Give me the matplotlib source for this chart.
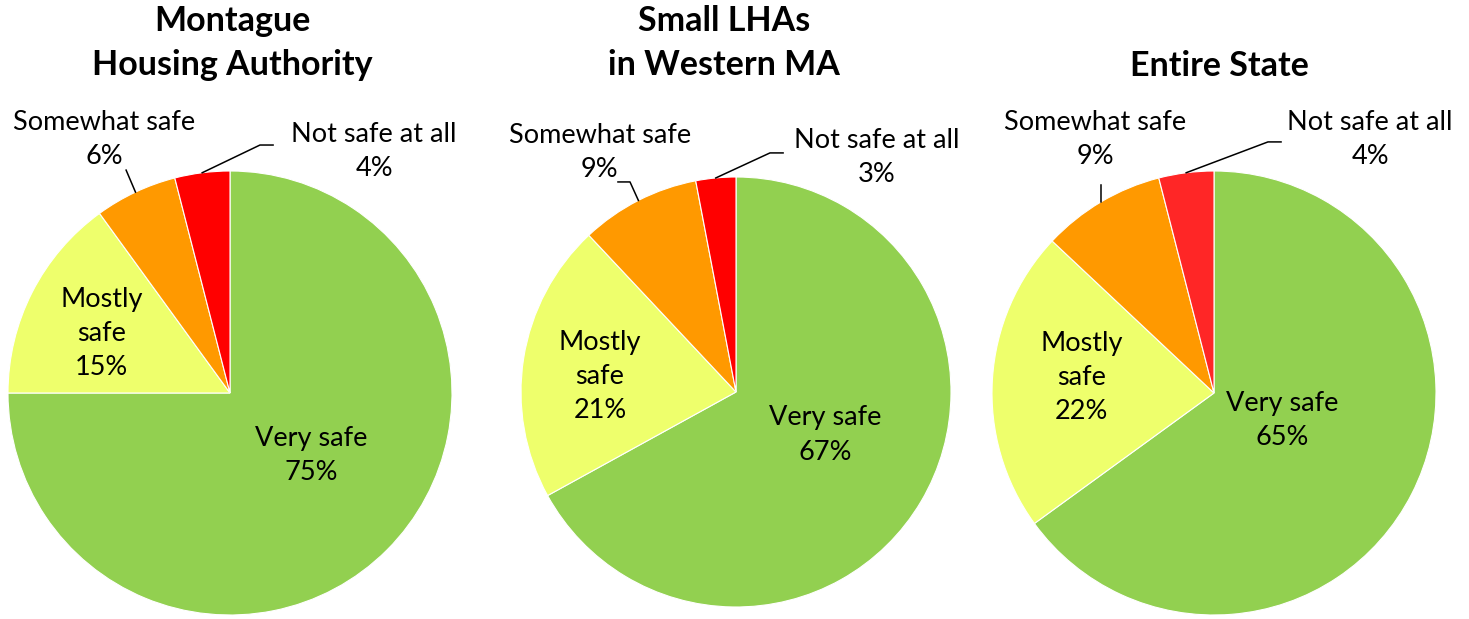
import matplotlib
matplotlib.use("Agg")
import matplotlib.pyplot as plt
import numpy as np

plt.rcParams['font.family'] = ['Lato', 'DejaVu Sans']

titles = ["Montague\nHousing Authority", "Small LHAs\nin Western MA", "Entire State"]
categories = ["Very safe", "Mostly\nsafe", "Somewhat safe", "Not safe at all"]
montague = [75, 15, 6, 4]
western = [67, 21, 9, 3]
state = [65, 22, 9, 4]
series = [montague, western, state]

colors_list = [
    ["#92D050", "#EEFF6C", "#FF9900", "#FF0000"],
    ["#92D050", "#EEFF6C", "#FF9900", "#FF0000"],
    ["#92D050", "#EEFF6C", "#FF9900", "#FF2626"],
]

W, H = 1469, 619
fig = plt.figure(figsize=(W / 100, H / 100), dpi=100)

# pie centres/radii in pixels (layout)
pies = [(230, 393, 222), (736, 392, 215), (1214, 393, 222)]
title_x = [232, 724, 1219]

# label positions in radius units (layout)
label_pos = [
    [(0.365, -0.28), (-0.577, 0.27), (-0.568, 1.14), (0.649, 1.086)],
    [(0.414, -0.20), (-0.633, 0.07), (-0.633, 1.112), (0.656, 1.093)],
    [(0.306, -0.126), (-0.595, 0.072), (-0.536, 1.14), (0.703, 1.14)],
]
# leader elbow points for small slices (index 2 and 3)
leaders = [
    {2: [(-0.468, 1.004)], 3: [(0.135, 1.117), (0.194, 1.117)]},
    {2: [(-0.493, 0.977), (-0.549, 0.977)], 3: [(0.158, 1.112), (0.219, 1.112)]},
    {2: [(-0.509, 0.937)], 3: [(0.243, 1.131), (0.302, 1.131)]},
]

fs = 19.5
for i, (vals, (cx, cy, r)) in enumerate(zip(series, pies)):
    ax = fig.add_axes([(cx - r) / W, (H - cy - r) / H, 2 * r / W, 2 * r / H])
    wedges, _ = ax.pie(vals, colors=colors_list[i], startangle=90, counterclock=False,
                       radius=1, wedgeprops=dict(edgecolor="white", linewidth=0.8))
    ax.set_xlim(-1, 1)
    ax.set_ylim(-1, 1)
    ax.set_aspect('equal')
    ax.axis('off')
    for j, (cat, v) in enumerate(zip(categories, vals)):
        lx, ly = label_pos[i][j]
        ax.text(lx, ly, f"{cat}\n{v}%", ha='center', va='center', fontsize=fs,
                linespacing=1.45, clip_on=False)
        if j in leaders[i]:
            w = wedges[j]
            mid = np.deg2rad((w.theta1 + w.theta2) / 2)
            pts = [(np.cos(mid), np.sin(mid))] + leaders[i][j]
            xs, ys = zip(*pts)
            ax.plot(xs, ys, color='black', lw=1.1, clip_on=False)
    fig.text(title_x[i] / W, 1 - (43 if i < 2 else 66) / H, titles[i], ha='center', va='center',
             fontsize=24.5, fontweight='bold', linespacing=1.45)

fig.savefig("out.png", dpi=100)
